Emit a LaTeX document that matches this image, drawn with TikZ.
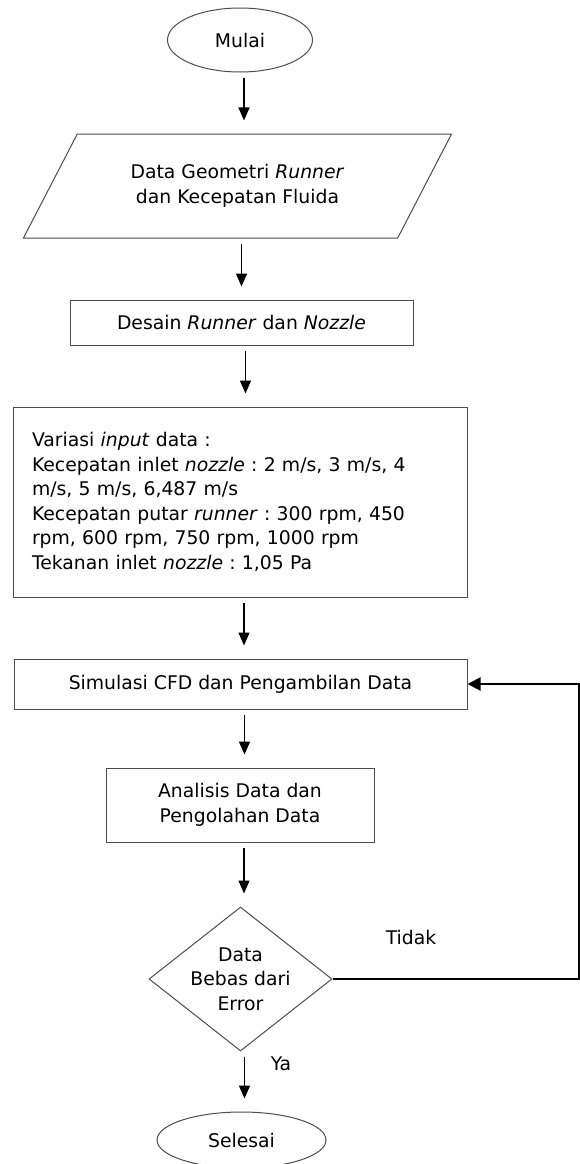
\documentclass[tikz,border=0pt]{standalone}
\usepackage{fontspec}
\setmainfont{DejaVu Sans}
\usetikzlibrary{shapes.geometric,arrows.meta}
\frenchspacing

\tikzset{
  garis/.style={draw=black!70, line width=1pt},
  terminal/.style={garis, ellipse, inner sep=0pt},
  proses/.style={garis, rectangle, align=center, inner sep=0pt},
  masukan/.style={garis, trapezium, trapezium left angle=50, trapezium right angle=130,
    trapezium stretches=true, align=center, inner sep=0pt},
  keputusan/.style={garis, diamond, align=center, inner sep=-8pt},
  panah/.style={line width=1.5pt, -{Triangle[length=13pt,width=11pt]},
    shorten <=5pt, shorten >=13pt},
  balik/.style={line width=2pt, -{Triangle[length=13pt,width=13pt]}},
}

\begin{document}
\begin{tikzpicture}[x=1pt, y=-1pt, font=\fontsize{18.8}{24.6}\selectfont]
  \useasboundingbox (0,0) rectangle (580,1164);

  % Simpul-simpul
  \node[terminal, minimum width=145pt, minimum height=64pt] (mulai) at (240,40) {Mulai};
  \node[masukan, minimum width=429pt, minimum height=104pt] (data) at (237.5,186)
    {Data Geometri \textit{Runner}\\dan Kecepatan Fluida};
  \node[proses, minimum width=343pt, minimum height=45pt] (desain) at (241.5,322.5)
    {Desain \textit{Runner} dan \textit{Nozzle}};
  \node[proses, minimum width=454pt, minimum height=190pt, inner xsep=19pt,
    text width=416pt, align=left] (variasi) at (240,502)
    {Variasi \textit{input} data :\\
     Kecepatan inlet \textit{nozzle} : 2 m/s, 3 m/s, 4\\
     m/s, 5 m/s, 6,487 m/s\\
     Kecepatan putar \textit{runner} : 300 rpm, 450\\
     rpm, 600 rpm, 750 rpm, 1000 rpm\\
     Tekanan inlet \textit{nozzle} : 1,05 Pa};
  \node[proses, minimum width=453pt, minimum height=50pt] (simulasi) at (240.5,684)
    {Simulasi CFD dan Pengambilan Data};
  \node[proses, minimum width=268pt, minimum height=74pt] (analisis) at (240,805)
    {Analisis Data dan\\Pengolahan Data};
  \node[keputusan, minimum width=183pt, minimum height=144pt] (cek) at (240.5,979)
    {Data\\Bebas dari\\Error};
  \node[terminal, minimum width=169pt, minimum height=56pt] (selesai) at (241.5,1140) {Selesai};

  % Label cabang
  \node (tidak) at (411,937) {Tidak};
  \node (ya) at (281,1064) {Ya};

  % Panah ke bawah
  \foreach \a/\b in {mulai/data, data/desain, desain/variasi, variasi/simulasi,
                     simulasi/analisis, analisis/cek, cek/selesai} {
    \draw[panah] ([xshift=4pt]\a.south) -- ([xshift=4pt]\a.south |- \b.north);
  }

  % Umpan balik
  \coordinate (kanan) at (579,0);
  \draw[balik] (cek.east) -- (cek.east -| kanan) |- (simulasi.east);
\end{tikzpicture}
\end{document}
